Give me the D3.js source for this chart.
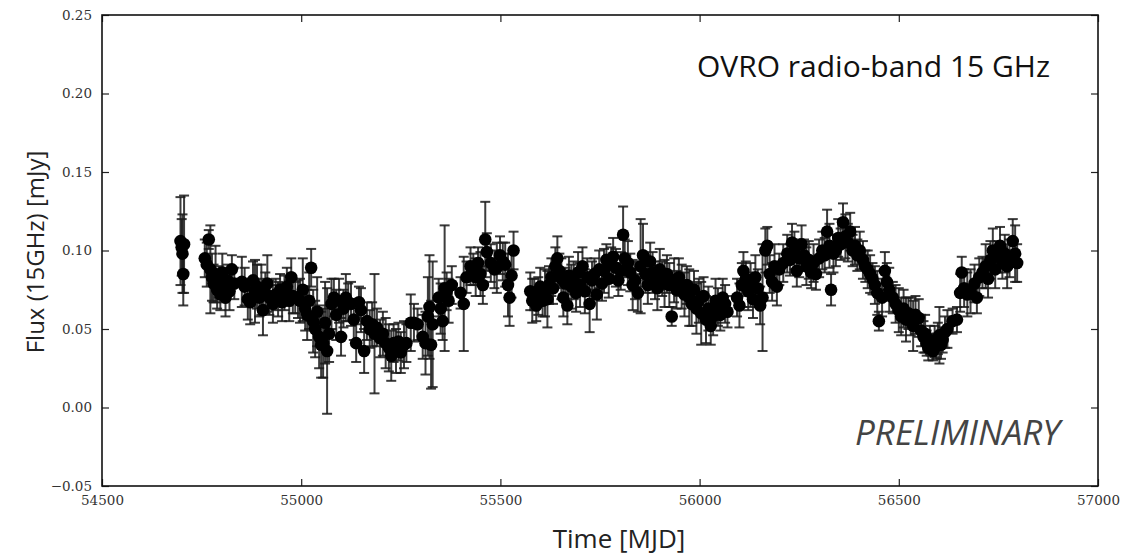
<!DOCTYPE html>
<html>
<head>
<meta charset="utf-8">
<script src="https://cdn.jsdelivr.net/npm/d3@7"></script>
<style>
  body { margin: 0; background: #fff; }
  .tick text { font-family: "DejaVu Serif", serif; font-size: 13.5px; fill: #333; }
</style>
</head>
<body>
<div id="chart"></div>
<script>
// OVRO 15 GHz light curve
let mjd = [
  54697, 54700, 54702, 54704, 54706,
  54758, 54763, 54768, 54772, 54776, 54780, 54785, 54789, 54793, 54797, 54802, 54806, 54810, 54815, 54820, 54826, 54832,
  54851, 54858, 54866, 54872, 54879, 54884, 54889, 54895, 54900, 54904, 54910, 54915, 54920, 54929, 54936, 54942, 54947, 54952, 54958, 54964, 54970, 54975, 54979, 54985, 54992, 54997,
  55004, 55010, 55015, 55020, 55025, 55030, 55035, 55040, 55045, 55050, 55055, 55060, 55065, 55070, 55076, 55082, 55088, 55095,
  55100, 55106, 55112, 55118, 55125, 55132, 55138, 55145, 55150, 55158, 55165, 55172, 55178, 55184, 55190, 55198, 55205, 55212, 55220, 55226, 55232, 55238, 55244, 55250, 55258, 55264, 55275, 55283, 55292, 55305, 55312, 55318, 55322, 55326, 55330,
  55345, 55350, 55355, 55360, 55365, 55370, 55378, 55400, 55408, 55415, 55425, 55432, 55438, 55444, 55450, 55456, 55462, 55466, 55476, 55485, 55491, 55499, 55506, 55512, 55519, 55523, 55528, 55533,
  55575, 55580, 55585, 55590, 55595, 55600, 55606, 55612, 55618, 55622, 55628, 55632, 55638, 55643, 55648, 55653, 55658, 55663, 55668, 55672, 55678, 55684, 55690, 55695,
  55700, 55706, 55712, 55718, 55724, 55730, 55736, 55742, 55748, 55755, 55760, 55766, 55772, 55778, 55783, 55790, 55796, 55802, 55808, 55812, 55820, 55826, 55832, 55838, 55845, 55852, 55858, 55864, 55870, 55876, 55882, 55888, 55894, 55900, 55906, 55912, 55918, 55924, 55930, 55936, 55942, 55948, 55955,
  55962, 55968, 55974, 55980, 55986, 55992, 55998, 56004, 56010, 56016, 56022, 56028, 56034, 56040, 56046, 56052, 56058, 56064, 56070, 56094, 56100, 56106, 56110, 56116, 56122, 56128, 56134, 56140, 56146, 56152, 56158,
  56165, 56170, 56176, 56182, 56188, 56194, 56200, 56210, 56220, 56227, 56232, 56238, 56244, 56250, 56256, 56262, 56268, 56274, 56280, 56286, 56292, 56300, 56308, 56314, 56320, 56326, 56330, 56336, 56342, 56348, 56354, 56360,
  56366, 56372, 56378, 56384, 56390, 56396, 56402, 56410, 56416, 56422, 56428, 56434, 56440, 56446, 56450, 56458, 56465, 56470, 56476, 56485, 56492, 56500, 56506, 56512, 56518, 56524, 56530, 56536, 56542, 56550, 56556,
  56562, 56566, 56570, 56574, 56578, 56582, 56586, 56590, 56594, 56598, 56602, 56606, 56610, 56616, 56622, 56635, 56646, 56654, 56658, 56664, 56672, 56680, 56690, 56696, 56702, 56710, 56718, 56724, 56730, 56736, 56742, 56748, 56754, 56760, 56766, 56772, 56778, 56786, 56792, 56797
];

let flux = [
  0.106, 0.102, 0.098, 0.085, 0.104,
  0.095, 0.091, 0.107, 0.088, 0.083, 0.079, 0.085, 0.075, 0.080, 0.072, 0.086, 0.078, 0.070, 0.081, 0.074, 0.088, 0.079,
  0.080, 0.077, 0.069, 0.067, 0.081, 0.074, 0.077, 0.070, 0.075, 0.062, 0.073, 0.079, 0.070, 0.066, 0.072, 0.069, 0.075, 0.067, 0.073, 0.077, 0.068, 0.083, 0.071, 0.070, 0.069, 0.068,
  0.075, 0.063, 0.059, 0.068, 0.089, 0.055, 0.050, 0.061, 0.045, 0.040, 0.041, 0.054, 0.036, 0.047, 0.066, 0.070, 0.059, 0.068,
  0.045, 0.063, 0.070, 0.067, 0.066, 0.056, 0.041, 0.067, 0.062, 0.036, 0.055, 0.050, 0.053, 0.047, 0.051, 0.044, 0.047, 0.041, 0.038, 0.033, 0.041, 0.036, 0.042, 0.035, 0.040, 0.041, 0.054, 0.054, 0.053, 0.045, 0.041, 0.058, 0.064, 0.040, 0.053,
  0.070, 0.063, 0.055, 0.076, 0.074, 0.068, 0.078, 0.073, 0.066, 0.083, 0.090, 0.088, 0.083, 0.092, 0.085, 0.078, 0.107, 0.099, 0.092, 0.088, 0.089, 0.097, 0.093, 0.091, 0.078, 0.070, 0.084, 0.100,
  0.074, 0.068, 0.072, 0.065, 0.071, 0.077, 0.068, 0.073, 0.069, 0.078, 0.083, 0.076, 0.090, 0.095, 0.087, 0.082, 0.070, 0.079, 0.065, 0.084, 0.077, 0.081, 0.073, 0.086,
  0.078, 0.090, 0.074, 0.083, 0.066, 0.081, 0.085, 0.072, 0.088, 0.079, 0.087, 0.094, 0.082, 0.091, 0.096, 0.089, 0.081, 0.087, 0.110, 0.095, 0.092, 0.086, 0.078, 0.081, 0.073, 0.090, 0.097, 0.085, 0.078, 0.093, 0.086, 0.081, 0.076, 0.088, 0.082, 0.079, 0.085, 0.078, 0.058, 0.081, 0.075, 0.083, 0.077,
  0.072, 0.078, 0.070, 0.066, 0.075, 0.063, 0.068, 0.060, 0.071, 0.056, 0.063, 0.052, 0.058, 0.068, 0.064, 0.059, 0.070, 0.066, 0.061, 0.070, 0.065, 0.078, 0.087, 0.082, 0.074, 0.078, 0.069, 0.083, 0.076, 0.065, 0.070,
  0.100, 0.103, 0.085, 0.080, 0.090, 0.077, 0.088, 0.092, 0.098, 0.094, 0.105, 0.100, 0.087, 0.095, 0.104, 0.097, 0.090, 0.094, 0.086, 0.092, 0.085, 0.095, 0.100, 0.097, 0.112, 0.103, 0.075, 0.098, 0.100, 0.108, 0.104, 0.118,
  0.109, 0.105, 0.112, 0.100, 0.103, 0.097, 0.100, 0.094, 0.090, 0.088, 0.085, 0.082, 0.078, 0.073, 0.055, 0.070, 0.087, 0.080, 0.075, 0.070, 0.066, 0.062, 0.058, 0.063, 0.056, 0.060, 0.058, 0.052, 0.059, 0.057, 0.049,
  0.045, 0.047, 0.041, 0.038, 0.043, 0.040, 0.036, 0.042, 0.039, 0.044, 0.046, 0.040, 0.043, 0.048, 0.050, 0.055, 0.056, 0.073, 0.086, 0.076, 0.072, 0.074, 0.079, 0.070, 0.083, 0.086, 0.090, 0.082, 0.094, 0.100, 0.088, 0.096, 0.103, 0.092, 0.098, 0.090, 0.095, 0.106, 0.098, 0.092
];

let fluxErr = [
  0.028, 0.018, 0.025, 0.020, 0.031,
  0.012, 0.014, 0.006, 0.028, 0.015, 0.012, 0.018, 0.012, 0.010, 0.010, 0.012, 0.011, 0.012, 0.010, 0.012, 0.009, 0.010,
  0.016, 0.012, 0.013, 0.014, 0.012, 0.020, 0.014, 0.012, 0.016, 0.016, 0.013, 0.018, 0.011, 0.012, 0.010, 0.011, 0.010, 0.012, 0.011, 0.012, 0.013, 0.012, 0.011, 0.010, 0.012, 0.014,
  0.020, 0.014, 0.016, 0.018, 0.012, 0.020, 0.018, 0.022, 0.020, 0.021, 0.022, 0.026, 0.040, 0.018, 0.016, 0.012, 0.016, 0.014,
  0.012, 0.012, 0.015, 0.012, 0.014, 0.013, 0.012, 0.010, 0.014, 0.014, 0.012, 0.012, 0.014, 0.038, 0.012, 0.012, 0.014, 0.016, 0.015, 0.016, 0.012, 0.014, 0.012, 0.013, 0.015, 0.012, 0.018, 0.012, 0.010, 0.014, 0.020, 0.025, 0.033, 0.028, 0.040,
  0.012, 0.016, 0.012, 0.040, 0.012, 0.014, 0.012, 0.010, 0.030, 0.010, 0.012, 0.010, 0.012, 0.010, 0.014, 0.012, 0.024, 0.012, 0.012, 0.012, 0.016, 0.012, 0.012, 0.014, 0.020, 0.018, 0.014, 0.012,
  0.012, 0.014, 0.010, 0.010, 0.012, 0.012, 0.010, 0.015, 0.018, 0.012, 0.012, 0.010, 0.012, 0.014, 0.011, 0.013, 0.012, 0.010, 0.012, 0.012, 0.014, 0.012, 0.012, 0.013,
  0.014, 0.012, 0.014, 0.012, 0.018, 0.012, 0.010, 0.016, 0.012, 0.011, 0.014, 0.010, 0.012, 0.011, 0.012, 0.012, 0.010, 0.012, 0.018, 0.012, 0.014, 0.012, 0.016, 0.012, 0.012, 0.030, 0.020, 0.012, 0.012, 0.012, 0.013, 0.012, 0.014, 0.013, 0.011, 0.015, 0.012, 0.014, 0.006, 0.014, 0.012, 0.012, 0.014,
  0.014, 0.012, 0.018, 0.014, 0.012, 0.016, 0.014, 0.020, 0.012, 0.015, 0.014, 0.012, 0.012, 0.014, 0.012, 0.010, 0.012, 0.012, 0.010, 0.012, 0.014, 0.014, 0.012, 0.011, 0.012, 0.014, 0.012, 0.014, 0.012, 0.012, 0.034,
  0.014, 0.012, 0.012, 0.012, 0.014, 0.012, 0.010, 0.012, 0.012, 0.010, 0.012, 0.012, 0.010, 0.012, 0.012, 0.010, 0.012, 0.012, 0.010, 0.012, 0.010, 0.012, 0.012, 0.011, 0.014, 0.014, 0.010, 0.012, 0.010, 0.012, 0.010, 0.012,
  0.014, 0.012, 0.012, 0.010, 0.012, 0.010, 0.012, 0.012, 0.010, 0.012, 0.012, 0.010, 0.012, 0.014, 0.006, 0.012, 0.012, 0.012, 0.014, 0.010, 0.012, 0.014, 0.012, 0.012, 0.014, 0.010, 0.012, 0.016, 0.012, 0.012, 0.010,
  0.010, 0.012, 0.008, 0.008, 0.009, 0.007, 0.006, 0.010, 0.008, 0.010, 0.018, 0.009, 0.008, 0.010, 0.012, 0.008, 0.008, 0.012, 0.010, 0.012, 0.014, 0.014, 0.012, 0.010, 0.012, 0.010, 0.014, 0.012, 0.012, 0.014, 0.012, 0.010, 0.012, 0.010, 0.012, 0.014, 0.012, 0.014, 0.018, 0.012
];

let xTicks = [54500, 55000, 55500, 56000, 56500, 57000];
let yTicks = [-0.05, 0.00, 0.05, 0.10, 0.15, 0.20, 0.25];

let svg, x, y;

initPlot();

function initPlot() {
    svg = d3.select('#chart')
        .append('svg')
        .attr('width', 1132)
        .attr('height', 555);

    x = d3.scaleLinear().domain([54500, 57000]).range([102, 1098]);
    y = d3.scaleLinear().domain([-0.05, 0.25]).range([486, 15]);

    drawPoints();
    drawAxes();
    drawLabels();
}

function drawPoints() {
    let data = mjd.map(function (d, i) {
        return { t: d, f: flux[i], e: fluxErr[i] };
    });

    let bars = svg.append('g')
        .attr('stroke', '#1a1a1a')
        .attr('stroke-width', 2)
        .attr('stroke-opacity', 0.85);

    let g = bars.selectAll('g')
        .data(data)
        .enter()
        .append('g');

    // vertical bar
    g.append('line')
        .attr('x1', function (d) { return x(d.t); })
        .attr('x2', function (d) { return x(d.t); })
        .attr('y1', function (d) { return y(d.f + d.e); })
        .attr('y2', function (d) { return y(d.f - d.e); });

    // caps
    g.append('line')
        .attr('x1', function (d) { return x(d.t) - 5; })
        .attr('x2', function (d) { return x(d.t) + 5; })
        .attr('y1', function (d) { return y(d.f + d.e); })
        .attr('y2', function (d) { return y(d.f + d.e); });
    g.append('line')
        .attr('x1', function (d) { return x(d.t) - 5; })
        .attr('x2', function (d) { return x(d.t) + 5; })
        .attr('y1', function (d) { return y(d.f - d.e); })
        .attr('y2', function (d) { return y(d.f - d.e); });

    svg.append('g')
        .selectAll('circle')
        .data(data)
        .enter()
        .append('circle')
        .attr('cx', function (d) { return x(d.t); })
        .attr('cy', function (d) { return y(d.f); })
        .attr('r', 6.3)
        .attr('fill', '#000');
}

function drawAxes() {
    let fmt = d3.format('.2f');

    let bottom = svg.append('g')
        .attr('transform', 'translate(0,486)')
        .call(d3.axisBottom(x).tickValues(xTicks).tickFormat(d3.format('d')).tickSizeInner(-7).tickSizeOuter(0).tickPadding(9));
    let left = svg.append('g')
        .attr('transform', 'translate(102,0)')
        .call(d3.axisLeft(y).tickValues(yTicks).tickFormat(fmt).tickSizeInner(-7).tickSizeOuter(0).tickPadding(10));
    let top = svg.append('g')
        .attr('transform', 'translate(0,15)')
        .call(d3.axisTop(x).tickValues(xTicks).tickFormat('').tickSizeInner(-7).tickSizeOuter(0));
    let right = svg.append('g')
        .attr('transform', 'translate(1098,0)')
        .call(d3.axisRight(y).tickValues(yTicks).tickFormat('').tickSizeInner(-7).tickSizeOuter(0));

    [bottom, left, top, right].forEach(function (a) {
        a.select('.domain').remove();
        a.selectAll('.tick line').attr('stroke', '#222').attr('stroke-width', 1.2);
    });

    svg.append('rect')
        .attr('x', 102)
        .attr('y', 15)
        .attr('width', 996)
        .attr('height', 471)
        .attr('fill', 'none')
        .attr('stroke', '#111')
        .attr('stroke-width', 1.6);
}

function drawLabels() {
    svg.append('text')
        .attr('x', 619)
        .attr('y', 548)
        .attr('text-anchor', 'middle')
        .style('font-family', '"Open Sans", sans-serif')
        .style('font-size', '26px')
        .style('fill', '#222')
        .text('Time [MJD]');

    svg.append('text')
        .attr('transform', 'translate(44,252) rotate(-90)')
        .attr('text-anchor', 'middle')
        .style('font-family', '"Open Sans", sans-serif')
        .style('font-size', '24px')
        .style('fill', '#222')
        .text('Flux (15GHz) [mJy]');

    svg.append('text')
        .attr('x', 1050)
        .attr('y', 77)
        .attr('text-anchor', 'end')
        .style('font-family', '"Open Sans", sans-serif')
        .style('font-size', '30px')
        .style('fill', '#111')
        .text('OVRO radio-band 15 GHz');

    svg.append('text')
        .attr('x', 1060)
        .attr('y', 445)
        .attr('text-anchor', 'end')
        .style('font-family', '"Open Sans", sans-serif')
        .style('font-style', 'italic')
        .style('font-size', '35px')
        .style('fill', '#444')
        .text('PRELIMINARY');
}
</script>
</body>
</html>
